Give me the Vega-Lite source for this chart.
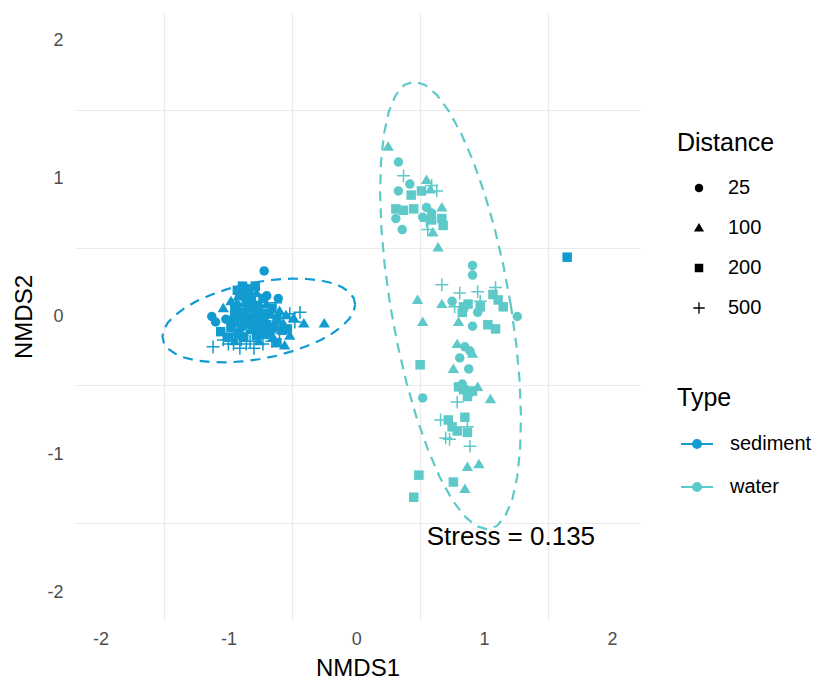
{
  "$schema": "https://vega.github.io/schema/vega-lite/v6.json",
  "autosize": "none",
  "width": 565,
  "height": 607,
  "padding": {"left": 75, "top": 13, "right": 175, "bottom": 62},
  "background": "white",
  "config": {
    "view": {"stroke": null},
    "font": "Liberation Sans",
    "axis": {
      "domain": false,
      "ticks": false,
      "tickSize": 0,
      "gridColor": "#ebebeb",
      "gridWidth": 1.2,
      "labelFont": "Liberation Sans",
      "labelFontSize": 18,
      "labelColor": "#4d4d4d",
      "titleFont": "Liberation Sans",
      "titleFontSize": 24,
      "titleFontWeight": "normal",
      "titleColor": "#000000"
    },
    "legend": {
      "titleFont": "Liberation Sans",
      "titleFontSize": 25,
      "titleFontWeight": "normal",
      "titleColor": "#000000",
      "labelFont": "Liberation Sans",
      "labelFontSize": 20,
      "labelColor": "#000000",
      "padding": 0
    }
  },
  "datasets": {
    "ellipse": [
      {"Type": "sediment", "i": 0, "NMDS1": -0.008, "NMDS2": 0.087},
      {"Type": "sediment", "i": 1, "NMDS1": -0.020, "NMDS2": 0.134},
      {"Type": "sediment", "i": 2, "NMDS1": -0.054, "NMDS2": 0.176},
      {"Type": "sediment", "i": 3, "NMDS1": -0.109, "NMDS2": 0.212},
      {"Type": "sediment", "i": 4, "NMDS1": -0.184, "NMDS2": 0.241},
      {"Type": "sediment", "i": 5, "NMDS1": -0.277, "NMDS2": 0.261},
      {"Type": "sediment", "i": 6, "NMDS1": -0.385, "NMDS2": 0.272},
      {"Type": "sediment", "i": 7, "NMDS1": -0.504, "NMDS2": 0.275},
      {"Type": "sediment", "i": 8, "NMDS1": -0.631, "NMDS2": 0.268},
      {"Type": "sediment", "i": 9, "NMDS1": -0.762, "NMDS2": 0.252},
      {"Type": "sediment", "i": 10, "NMDS1": -0.893, "NMDS2": 0.228},
      {"Type": "sediment", "i": 11, "NMDS1": -1.020, "NMDS2": 0.195},
      {"Type": "sediment", "i": 12, "NMDS1": -1.139, "NMDS2": 0.156},
      {"Type": "sediment", "i": 13, "NMDS1": -1.247, "NMDS2": 0.112},
      {"Type": "sediment", "i": 14, "NMDS1": -1.340, "NMDS2": 0.063},
      {"Type": "sediment", "i": 15, "NMDS1": -1.415, "NMDS2": 0.011},
      {"Type": "sediment", "i": 16, "NMDS1": -1.471, "NMDS2": -0.042},
      {"Type": "sediment", "i": 17, "NMDS1": -1.505, "NMDS2": -0.094},
      {"Type": "sediment", "i": 18, "NMDS1": -1.516, "NMDS2": -0.145},
      {"Type": "sediment", "i": 19, "NMDS1": -1.505, "NMDS2": -0.192},
      {"Type": "sediment", "i": 20, "NMDS1": -1.471, "NMDS2": -0.234},
      {"Type": "sediment", "i": 21, "NMDS1": -1.415, "NMDS2": -0.270},
      {"Type": "sediment", "i": 22, "NMDS1": -1.340, "NMDS2": -0.299},
      {"Type": "sediment", "i": 23, "NMDS1": -1.247, "NMDS2": -0.319},
      {"Type": "sediment", "i": 24, "NMDS1": -1.139, "NMDS2": -0.330},
      {"Type": "sediment", "i": 25, "NMDS1": -1.020, "NMDS2": -0.333},
      {"Type": "sediment", "i": 26, "NMDS1": -0.893, "NMDS2": -0.326},
      {"Type": "sediment", "i": 27, "NMDS1": -0.762, "NMDS2": -0.310},
      {"Type": "sediment", "i": 28, "NMDS1": -0.631, "NMDS2": -0.286},
      {"Type": "sediment", "i": 29, "NMDS1": -0.504, "NMDS2": -0.253},
      {"Type": "sediment", "i": 30, "NMDS1": -0.385, "NMDS2": -0.214},
      {"Type": "sediment", "i": 31, "NMDS1": -0.277, "NMDS2": -0.170},
      {"Type": "sediment", "i": 32, "NMDS1": -0.184, "NMDS2": -0.121},
      {"Type": "sediment", "i": 33, "NMDS1": -0.109, "NMDS2": -0.069},
      {"Type": "sediment", "i": 34, "NMDS1": -0.054, "NMDS2": -0.016},
      {"Type": "sediment", "i": 35, "NMDS1": -0.020, "NMDS2": 0.036},
      {"Type": "sediment", "i": 36, "NMDS1": -0.008, "NMDS2": 0.087},
      {"Type": "water", "i": 0, "NMDS1": 1.210, "NMDS2": 0.080},
      {"Type": "water", "i": 1, "NMDS1": 1.153, "NMDS2": 0.362},
      {"Type": "water", "i": 2, "NMDS1": 1.084, "NMDS2": 0.635},
      {"Type": "water", "i": 3, "NMDS1": 1.004, "NMDS2": 0.892},
      {"Type": "water", "i": 4, "NMDS1": 0.916, "NMDS2": 1.123},
      {"Type": "water", "i": 5, "NMDS1": 0.823, "NMDS2": 1.323},
      {"Type": "water", "i": 6, "NMDS1": 0.727, "NMDS2": 1.486},
      {"Type": "water", "i": 7, "NMDS1": 0.632, "NMDS2": 1.605},
      {"Type": "water", "i": 8, "NMDS1": 0.539, "NMDS2": 1.678},
      {"Type": "water", "i": 9, "NMDS1": 0.453, "NMDS2": 1.703},
      {"Type": "water", "i": 10, "NMDS1": 0.375, "NMDS2": 1.678},
      {"Type": "water", "i": 11, "NMDS1": 0.309, "NMDS2": 1.605},
      {"Type": "water", "i": 12, "NMDS1": 0.255, "NMDS2": 1.486},
      {"Type": "water", "i": 13, "NMDS1": 0.217, "NMDS2": 1.323},
      {"Type": "water", "i": 14, "NMDS1": 0.194, "NMDS2": 1.123},
      {"Type": "water", "i": 15, "NMDS1": 0.187, "NMDS2": 0.892},
      {"Type": "water", "i": 16, "NMDS1": 0.197, "NMDS2": 0.635},
      {"Type": "water", "i": 17, "NMDS1": 0.224, "NMDS2": 0.362},
      {"Type": "water", "i": 18, "NMDS1": 0.266, "NMDS2": 0.080},
      {"Type": "water", "i": 19, "NMDS1": 0.323, "NMDS2": -0.202},
      {"Type": "water", "i": 20, "NMDS1": 0.392, "NMDS2": -0.475},
      {"Type": "water", "i": 21, "NMDS1": 0.472, "NMDS2": -0.732},
      {"Type": "water", "i": 22, "NMDS1": 0.560, "NMDS2": -0.963},
      {"Type": "water", "i": 23, "NMDS1": 0.653, "NMDS2": -1.163},
      {"Type": "water", "i": 24, "NMDS1": 0.749, "NMDS2": -1.326},
      {"Type": "water", "i": 25, "NMDS1": 0.844, "NMDS2": -1.445},
      {"Type": "water", "i": 26, "NMDS1": 0.937, "NMDS2": -1.518},
      {"Type": "water", "i": 27, "NMDS1": 1.023, "NMDS2": -1.543},
      {"Type": "water", "i": 28, "NMDS1": 1.101, "NMDS2": -1.518},
      {"Type": "water", "i": 29, "NMDS1": 1.167, "NMDS2": -1.445},
      {"Type": "water", "i": 30, "NMDS1": 1.221, "NMDS2": -1.326},
      {"Type": "water", "i": 31, "NMDS1": 1.259, "NMDS2": -1.163},
      {"Type": "water", "i": 32, "NMDS1": 1.282, "NMDS2": -0.963},
      {"Type": "water", "i": 33, "NMDS1": 1.289, "NMDS2": -0.732},
      {"Type": "water", "i": 34, "NMDS1": 1.279, "NMDS2": -0.475},
      {"Type": "water", "i": 35, "NMDS1": 1.252, "NMDS2": -0.202},
      {"Type": "water", "i": 36, "NMDS1": 1.210, "NMDS2": 0.080}
    ],
    "sites": [
      {"NMDS1": -0.72, "NMDS2": 0.33, "Type": "sediment", "Distance": "25"},
      {"NMDS1": -1.13, "NMDS2": 0.0, "Type": "sediment", "Distance": "25"},
      {"NMDS1": -1.10, "NMDS2": -0.04, "Type": "sediment", "Distance": "25"},
      {"NMDS1": -0.98, "NMDS2": 0.11, "Type": "sediment", "Distance": "100"},
      {"NMDS1": -0.89, "NMDS2": 0.22, "Type": "sediment", "Distance": "200"},
      {"NMDS1": -0.79, "NMDS2": 0.22, "Type": "sediment", "Distance": "200"},
      {"NMDS1": -0.84, "NMDS2": 0.20, "Type": "sediment", "Distance": "200"},
      {"NMDS1": -0.55, "NMDS2": 0.01, "Type": "sediment", "Distance": "100"},
      {"NMDS1": -0.49, "NMDS2": -0.01, "Type": "sediment", "Distance": "100"},
      {"NMDS1": -0.41, "NMDS2": -0.05, "Type": "sediment", "Distance": "100"},
      {"NMDS1": -0.25, "NMDS2": -0.05, "Type": "sediment", "Distance": "100"},
      {"NMDS1": -0.52, "NMDS2": -0.14, "Type": "sediment", "Distance": "100"},
      {"NMDS1": -1.12, "NMDS2": -0.22, "Type": "sediment", "Distance": "500"},
      {"NMDS1": -1.00, "NMDS2": -0.20, "Type": "sediment", "Distance": "500"},
      {"NMDS1": -0.80, "NMDS2": -0.23, "Type": "sediment", "Distance": "500"},
      {"NMDS1": -0.86, "NMDS2": -0.20, "Type": "sediment", "Distance": "500"},
      {"NMDS1": -0.52, "NMDS2": 0.02, "Type": "sediment", "Distance": "500"},
      {"NMDS1": -0.44, "NMDS2": 0.03, "Type": "sediment", "Distance": "500"},
      {"NMDS1": -1.04, "NMDS2": -0.17, "Type": "sediment", "Distance": "500"},
      {"NMDS1": -0.95, "NMDS2": 0.05, "Type": "sediment", "Distance": "200"},
      {"NMDS1": -0.90, "NMDS2": 0.0, "Type": "sediment", "Distance": "200"},
      {"NMDS1": -0.85, "NMDS2": -0.05, "Type": "sediment", "Distance": "200"},
      {"NMDS1": -0.80, "NMDS2": 0.08, "Type": "sediment", "Distance": "200"},
      {"NMDS1": -0.75, "NMDS2": 0.02, "Type": "sediment", "Distance": "200"},
      {"NMDS1": -0.70, "NMDS2": -0.06, "Type": "sediment", "Distance": "200"},
      {"NMDS1": -0.92, "NMDS2": -0.12, "Type": "sediment", "Distance": "200"},
      {"NMDS1": -0.88, "NMDS2": -0.15, "Type": "sediment", "Distance": "200"},
      {"NMDS1": -0.78, "NMDS2": -0.14, "Type": "sediment", "Distance": "200"},
      {"NMDS1": -0.68, "NMDS2": -0.12, "Type": "sediment", "Distance": "200"},
      {"NMDS1": -0.62, "NMDS2": -0.02, "Type": "sediment", "Distance": "200"},
      {"NMDS1": -0.98, "NMDS2": -0.08, "Type": "sediment", "Distance": "200"},
      {"NMDS1": -0.82, "NMDS2": 0.14, "Type": "sediment", "Distance": "200"},
      {"NMDS1": -0.73, "NMDS2": 0.13, "Type": "sediment", "Distance": "200"},
      {"NMDS1": -0.66, "NMDS2": 0.06, "Type": "sediment", "Distance": "200"},
      {"NMDS1": -1.00, "NMDS2": -0.15, "Type": "sediment", "Distance": "200"},
      {"NMDS1": -0.58, "NMDS2": -0.10, "Type": "sediment", "Distance": "200"},
      {"NMDS1": -0.86, "NMDS2": 0.10, "Type": "sediment", "Distance": "200"},
      {"NMDS1": -0.91, "NMDS2": 0.03, "Type": "sediment", "Distance": "200"},
      {"NMDS1": -0.83, "NMDS2": -0.01, "Type": "sediment", "Distance": "200"},
      {"NMDS1": -0.77, "NMDS2": -0.04, "Type": "sediment", "Distance": "200"},
      {"NMDS1": -0.72, "NMDS2": -0.13, "Type": "sediment", "Distance": "200"},
      {"NMDS1": -0.95, "NMDS2": -0.02, "Type": "sediment", "Distance": "200"},
      {"NMDS1": -0.86, "NMDS2": 0.17, "Type": "sediment", "Distance": "200"},
      {"NMDS1": -1.06, "NMDS2": -0.11, "Type": "sediment", "Distance": "200"},
      {"NMDS1": -0.54, "NMDS2": -0.09, "Type": "sediment", "Distance": "200"},
      {"NMDS1": -0.93, "NMDS2": 0.19, "Type": "sediment", "Distance": "200"},
      {"NMDS1": -0.62, "NMDS2": -0.19, "Type": "sediment", "Distance": "200"},
      {"NMDS1": -0.97, "NMDS2": 0.0, "Type": "sediment", "Distance": "100"},
      {"NMDS1": -0.87, "NMDS2": 0.05, "Type": "sediment", "Distance": "100"},
      {"NMDS1": -0.83, "NMDS2": -0.10, "Type": "sediment", "Distance": "100"},
      {"NMDS1": -0.72, "NMDS2": -0.02, "Type": "sediment", "Distance": "100"},
      {"NMDS1": -0.65, "NMDS2": -0.15, "Type": "sediment", "Distance": "100"},
      {"NMDS1": -0.60, "NMDS2": 0.04, "Type": "sediment", "Distance": "100"},
      {"NMDS1": -0.92, "NMDS2": 0.15, "Type": "sediment", "Distance": "100"},
      {"NMDS1": -0.78, "NMDS2": 0.17, "Type": "sediment", "Distance": "100"},
      {"NMDS1": -0.70, "NMDS2": 0.09, "Type": "sediment", "Distance": "100"},
      {"NMDS1": -0.95, "NMDS2": -0.18, "Type": "sediment", "Distance": "100"},
      {"NMDS1": -0.57, "NMDS2": -0.05, "Type": "sediment", "Distance": "100"},
      {"NMDS1": -0.76, "NMDS2": -0.18, "Type": "sediment", "Distance": "100"},
      {"NMDS1": -0.89, "NMDS2": -0.06, "Type": "sediment", "Distance": "100"},
      {"NMDS1": -0.80, "NMDS2": 0.03, "Type": "sediment", "Distance": "100"},
      {"NMDS1": -0.69, "NMDS2": -0.09, "Type": "sediment", "Distance": "100"},
      {"NMDS1": -0.63, "NMDS2": -0.03, "Type": "sediment", "Distance": "100"},
      {"NMDS1": -1.04, "NMDS2": 0.06, "Type": "sediment", "Distance": "100"},
      {"NMDS1": -0.56, "NMDS2": -0.21, "Type": "sediment", "Distance": "100"},
      {"NMDS1": -0.93, "NMDS2": 0.08, "Type": "sediment", "Distance": "25"},
      {"NMDS1": -0.88, "NMDS2": -0.03, "Type": "sediment", "Distance": "25"},
      {"NMDS1": -0.80, "NMDS2": -0.02, "Type": "sediment", "Distance": "25"},
      {"NMDS1": -0.76, "NMDS2": 0.07, "Type": "sediment", "Distance": "25"},
      {"NMDS1": -0.68, "NMDS2": 0.02, "Type": "sediment", "Distance": "25"},
      {"NMDS1": -0.85, "NMDS2": 0.12, "Type": "sediment", "Distance": "25"},
      {"NMDS1": -0.96, "NMDS2": -0.05, "Type": "sediment", "Distance": "25"},
      {"NMDS1": -0.74, "NMDS2": -0.10, "Type": "sediment", "Distance": "25"},
      {"NMDS1": -0.64, "NMDS2": -0.08, "Type": "sediment", "Distance": "25"},
      {"NMDS1": -0.90, "NMDS2": -0.08, "Type": "sediment", "Distance": "25"},
      {"NMDS1": -0.70, "NMDS2": 0.15, "Type": "sediment", "Distance": "25"},
      {"NMDS1": -1.02, "NMDS2": -0.02, "Type": "sediment", "Distance": "25"},
      {"NMDS1": -0.84, "NMDS2": 0.06, "Type": "sediment", "Distance": "25"},
      {"NMDS1": -0.79, "NMDS2": -0.08, "Type": "sediment", "Distance": "25"},
      {"NMDS1": -0.93, "NMDS2": -0.13, "Type": "sediment", "Distance": "25"},
      {"NMDS1": -0.61, "NMDS2": 0.13, "Type": "sediment", "Distance": "25"},
      {"NMDS1": -0.96, "NMDS2": -0.20, "Type": "sediment", "Distance": "500"},
      {"NMDS1": -0.90, "NMDS2": -0.17, "Type": "sediment", "Distance": "500"},
      {"NMDS1": -0.83, "NMDS2": -0.18, "Type": "sediment", "Distance": "500"},
      {"NMDS1": -0.73, "NMDS2": -0.20, "Type": "sediment", "Distance": "500"},
      {"NMDS1": -0.66, "NMDS2": -0.18, "Type": "sediment", "Distance": "500"},
      {"NMDS1": -0.60, "NMDS2": -0.12, "Type": "sediment", "Distance": "500"},
      {"NMDS1": -0.94, "NMDS2": 0.12, "Type": "sediment", "Distance": "500"},
      {"NMDS1": -0.81, "NMDS2": 0.04, "Type": "sediment", "Distance": "500"},
      {"NMDS1": -0.71, "NMDS2": 0.05, "Type": "sediment", "Distance": "500"},
      {"NMDS1": -0.63, "NMDS2": 0.10, "Type": "sediment", "Distance": "500"},
      {"NMDS1": -0.86, "NMDS2": -0.12, "Type": "sediment", "Distance": "500"},
      {"NMDS1": -0.77, "NMDS2": -0.07, "Type": "sediment", "Distance": "500"},
      {"NMDS1": -0.91, "NMDS2": -0.23, "Type": "sediment", "Distance": "500"},
      {"NMDS1": -0.69, "NMDS2": -0.01, "Type": "sediment", "Distance": "500"},
      {"NMDS1": -0.48, "NMDS2": -0.04, "Type": "sediment", "Distance": "500"},
      {"NMDS1": 1.65, "NMDS2": 0.43, "Type": "sediment", "Distance": "200"},
      {"NMDS1": 0.25, "NMDS2": 1.23, "Type": "water", "Distance": "100"},
      {"NMDS1": 0.33, "NMDS2": 1.12, "Type": "water", "Distance": "25"},
      {"NMDS1": 0.37, "NMDS2": 1.02, "Type": "water", "Distance": "500"},
      {"NMDS1": 0.42, "NMDS2": 0.96, "Type": "water", "Distance": "25"},
      {"NMDS1": 0.33, "NMDS2": 0.91, "Type": "water", "Distance": "25"},
      {"NMDS1": 0.43, "NMDS2": 0.88, "Type": "water", "Distance": "200"},
      {"NMDS1": 0.55, "NMDS2": 0.99, "Type": "water", "Distance": "100"},
      {"NMDS1": 0.59, "NMDS2": 0.95, "Type": "water", "Distance": "500"},
      {"NMDS1": 0.63, "NMDS2": 0.91, "Type": "water", "Distance": "500"},
      {"NMDS1": 0.51, "NMDS2": 0.91, "Type": "water", "Distance": "200"},
      {"NMDS1": 0.58, "NMDS2": 0.92, "Type": "water", "Distance": "100"},
      {"NMDS1": 0.31, "NMDS2": 0.78, "Type": "water", "Distance": "200"},
      {"NMDS1": 0.37, "NMDS2": 0.77, "Type": "water", "Distance": "200"},
      {"NMDS1": 0.45, "NMDS2": 0.78, "Type": "water", "Distance": "200"},
      {"NMDS1": 0.31, "NMDS2": 0.71, "Type": "water", "Distance": "25"},
      {"NMDS1": 0.36, "NMDS2": 0.63, "Type": "water", "Distance": "25"},
      {"NMDS1": 0.55, "NMDS2": 0.79, "Type": "water", "Distance": "25"},
      {"NMDS1": 0.52, "NMDS2": 0.72, "Type": "water", "Distance": "25"},
      {"NMDS1": 0.59, "NMDS2": 0.75, "Type": "water", "Distance": "25"},
      {"NMDS1": 0.67, "NMDS2": 0.79, "Type": "water", "Distance": "100"},
      {"NMDS1": 0.67, "NMDS2": 0.71, "Type": "water", "Distance": "200"},
      {"NMDS1": 0.68, "NMDS2": 0.66, "Type": "water", "Distance": "200"},
      {"NMDS1": 0.56, "NMDS2": 0.63, "Type": "water", "Distance": "500"},
      {"NMDS1": 0.60, "NMDS2": 0.61, "Type": "water", "Distance": "100"},
      {"NMDS1": 0.64, "NMDS2": 0.50, "Type": "water", "Distance": "100"},
      {"NMDS1": 0.55, "NMDS2": 0.69, "Type": "water", "Distance": "500"},
      {"NMDS1": 0.59, "NMDS2": 0.70, "Type": "water", "Distance": "200"},
      {"NMDS1": 0.91, "NMDS2": 0.37, "Type": "water", "Distance": "25"},
      {"NMDS1": 0.91, "NMDS2": 0.30, "Type": "water", "Distance": "25"},
      {"NMDS1": 0.67, "NMDS2": 0.23, "Type": "water", "Distance": "500"},
      {"NMDS1": 0.48, "NMDS2": 0.12, "Type": "water", "Distance": "100"},
      {"NMDS1": 0.52, "NMDS2": -0.04, "Type": "water", "Distance": "100"},
      {"NMDS1": 0.67, "NMDS2": 0.09, "Type": "water", "Distance": "100"},
      {"NMDS1": 0.75, "NMDS2": 0.11, "Type": "water", "Distance": "25"},
      {"NMDS1": 0.81, "NMDS2": 0.17, "Type": "water", "Distance": "500"},
      {"NMDS1": 0.95, "NMDS2": 0.18, "Type": "water", "Distance": "500"},
      {"NMDS1": 1.09, "NMDS2": 0.21, "Type": "water", "Distance": "500"},
      {"NMDS1": 1.07, "NMDS2": 0.16, "Type": "water", "Distance": "200"},
      {"NMDS1": 1.11, "NMDS2": 0.12, "Type": "water", "Distance": "200"},
      {"NMDS1": 1.15, "NMDS2": 0.07, "Type": "water", "Distance": "200"},
      {"NMDS1": 1.26, "NMDS2": 0.0, "Type": "water", "Distance": "25"},
      {"NMDS1": 0.84, "NMDS2": 0.07, "Type": "water", "Distance": "200"},
      {"NMDS1": 0.875, "NMDS2": 0.09, "Type": "water", "Distance": "200"},
      {"NMDS1": 0.77, "NMDS2": 0.07, "Type": "water", "Distance": "500"},
      {"NMDS1": 0.83, "NMDS2": 0.03, "Type": "water", "Distance": "200"},
      {"NMDS1": 0.95, "NMDS2": 0.03, "Type": "water", "Distance": "25"},
      {"NMDS1": 0.97, "NMDS2": 0.07, "Type": "water", "Distance": "200"},
      {"NMDS1": 0.97, "NMDS2": 0.11, "Type": "water", "Distance": "500"},
      {"NMDS1": 0.80, "NMDS2": -0.04, "Type": "water", "Distance": "100"},
      {"NMDS1": 0.91, "NMDS2": -0.07, "Type": "water", "Distance": "25"},
      {"NMDS1": 1.03, "NMDS2": -0.06, "Type": "water", "Distance": "200"},
      {"NMDS1": 1.09, "NMDS2": -0.09, "Type": "water", "Distance": "200"},
      {"NMDS1": 0.79, "NMDS2": -0.20, "Type": "water", "Distance": "100"},
      {"NMDS1": 0.85, "NMDS2": -0.22, "Type": "water", "Distance": "25"},
      {"NMDS1": 0.89, "NMDS2": -0.25, "Type": "water", "Distance": "25"},
      {"NMDS1": 0.91, "NMDS2": -0.27, "Type": "water", "Distance": "100"},
      {"NMDS1": 0.81, "NMDS2": -0.30, "Type": "water", "Distance": "25"},
      {"NMDS1": 0.76, "NMDS2": -0.38, "Type": "water", "Distance": "100"},
      {"NMDS1": 0.88, "NMDS2": -0.38, "Type": "water", "Distance": "25"},
      {"NMDS1": 0.50, "NMDS2": -0.35, "Type": "water", "Distance": "200"},
      {"NMDS1": 0.80, "NMDS2": -0.51, "Type": "water", "Distance": "200"},
      {"NMDS1": 0.84, "NMDS2": -0.53, "Type": "water", "Distance": "200"},
      {"NMDS1": 0.875, "NMDS2": -0.55, "Type": "water", "Distance": "200"},
      {"NMDS1": 0.91, "NMDS2": -0.54, "Type": "water", "Distance": "200"},
      {"NMDS1": 0.87, "NMDS2": -0.58, "Type": "water", "Distance": "200"},
      {"NMDS1": 0.83, "NMDS2": -0.49, "Type": "water", "Distance": "25"},
      {"NMDS1": 0.95, "NMDS2": -0.51, "Type": "water", "Distance": "100"},
      {"NMDS1": 1.05, "NMDS2": -0.60, "Type": "water", "Distance": "100"},
      {"NMDS1": 0.52, "NMDS2": -0.59, "Type": "water", "Distance": "25"},
      {"NMDS1": 0.79, "NMDS2": -0.62, "Type": "water", "Distance": "500"},
      {"NMDS1": 0.66, "NMDS2": -0.75, "Type": "water", "Distance": "500"},
      {"NMDS1": 0.72, "NMDS2": -0.75, "Type": "water", "Distance": "200"},
      {"NMDS1": 0.85, "NMDS2": -0.73, "Type": "water", "Distance": "200"},
      {"NMDS1": 0.75, "NMDS2": -0.80, "Type": "water", "Distance": "200"},
      {"NMDS1": 0.87, "NMDS2": -0.80, "Type": "water", "Distance": "500"},
      {"NMDS1": 0.87, "NMDS2": -0.84, "Type": "water", "Distance": "200"},
      {"NMDS1": 0.70, "NMDS2": -0.88, "Type": "water", "Distance": "500"},
      {"NMDS1": 0.73, "NMDS2": -0.89, "Type": "water", "Distance": "500"},
      {"NMDS1": 0.79, "NMDS2": -0.83, "Type": "water", "Distance": "200"},
      {"NMDS1": 0.89, "NMDS2": -0.94, "Type": "water", "Distance": "500"},
      {"NMDS1": 0.87, "NMDS2": -1.09, "Type": "water", "Distance": "100"},
      {"NMDS1": 0.96, "NMDS2": -1.07, "Type": "water", "Distance": "100"},
      {"NMDS1": 0.49, "NMDS2": -1.15, "Type": "water", "Distance": "200"},
      {"NMDS1": 0.76, "NMDS2": -1.20, "Type": "water", "Distance": "200"},
      {"NMDS1": 0.85, "NMDS2": -1.25, "Type": "water", "Distance": "100"},
      {"NMDS1": 0.45, "NMDS2": -1.31, "Type": "water", "Distance": "200"}
    ],
    "note": [
      {"label": "Stress = 0.135", "NMDS1": 1.21, "NMDS2": -1.6}
    ]
  },
  "encoding": {
    "x": {
      "field": "NMDS1",
      "type": "quantitative",
      "title": "NMDS1",
      "scale": {"domain": [-2.2, 2.22], "nice": false, "zero": false},
      "axis": {
        "values": [-2, -1.5, -1, -0.5, 0, 0.5, 1, 1.5, 2],
        "labelExpr": "datum.value % 1 === 0 ? '' + datum.value : ''",
        "labelPadding": 10,
        "titlePadding": 8,
        "gridOpacity": {"condition": {"test": "datum.value % 1 === 0", "value": 0}, "value": 1}
      }
    },
    "y": {
      "field": "NMDS2",
      "type": "quantitative",
      "title": "NMDS2",
      "scale": {"domain": [-2.2, 2.2], "nice": false, "zero": false},
      "axis": {
        "values": [-2, -1.5, -1, -0.5, 0, 0.5, 1, 1.5, 2],
        "labelExpr": "datum.value % 1 === 0 ? '' + datum.value : ''",
        "labelPadding": 12,
        "titlePadding": 10,
        "gridOpacity": {"condition": {"test": "datum.value % 1 === 0", "value": 0}, "value": 1}
      }
    },
    "color": {
      "field": "Type",
      "type": "nominal",
      "title": "Type",
      "scale": {"domain": ["sediment", "water"], "range": ["#119bd0", "#5ec9c9"]},
      "legend": {
        "orient": "none", "legendX": 602, "legendY": 373,
        "symbolType": "M-1,0H1M-0.25,0A0.25,0.25 0 1 1 0.25,0A0.25,0.25 0 1 1 -0.25,0Z",
        "symbolSize": 1024, "symbolStrokeWidth": 2,
        "symbolOffset": 3, "labelOffset": 16, "rowPadding": 16, "titlePadding": 16,
        "encode": {
          "symbols": {
            "update": {
              "fill": {"scale": "color", "field": "value"},
              "stroke": {"scale": "color", "field": "value"},
              "strokeWidth": {"value": 2},
              "opacity": {"value": 1}
            }
          }
        }
      }
    }
  },
  "layer": [
    {
      "data": {"name": "ellipse"},
      "mark": {"type": "line", "strokeWidth": 2.2, "strokeDash": [10, 7]},
      "encoding": {
        "order": {"field": "i", "type": "quantitative"}
      }
    },
    {
      "data": {"name": "sites"},
      "mark": {"type": "point", "filled": true, "opacity": 1, "size": 90, "strokeWidth": 0},
      "encoding": {
        "shape": {
          "field": "Distance",
          "type": "nominal",
          "title": "Distance",
          "sort": ["25", "100", "200", "500"],
          "scale": {
            "domain": ["25", "100", "200", "500"],
            "range": ["circle", "M0,-1.15L1.2,0.85L-1.2,0.85Z", "square", "M-1.35,-0.16H-0.16V-1.35H0.16V-0.16H1.35V0.16H0.16V1.35H-0.16V0.16H-1.35Z"]
          },
          "legend": {
            "orient": "none", "legendX": 602, "legendY": 118,
            "symbolFillColor": "#000000", "symbolStrokeColor": "#000000",
            "symbolSize": 72, "symbolStrokeWidth": 0,
            "symbolOffset": 12, "labelOffset": 19, "rowPadding": 20, "titlePadding": 22
          }
        }
      }
    },
    {
      "data": {"name": "note"},
      "mark": {"type": "text", "font": "Liberation Sans", "fontSize": 26, "color": "#000000", "align": "center", "baseline": "middle"},
      "encoding": {
        "text": {"field": "label", "type": "nominal"},
        "color": {"value": "#000000"}
      }
    }
  ]
}
